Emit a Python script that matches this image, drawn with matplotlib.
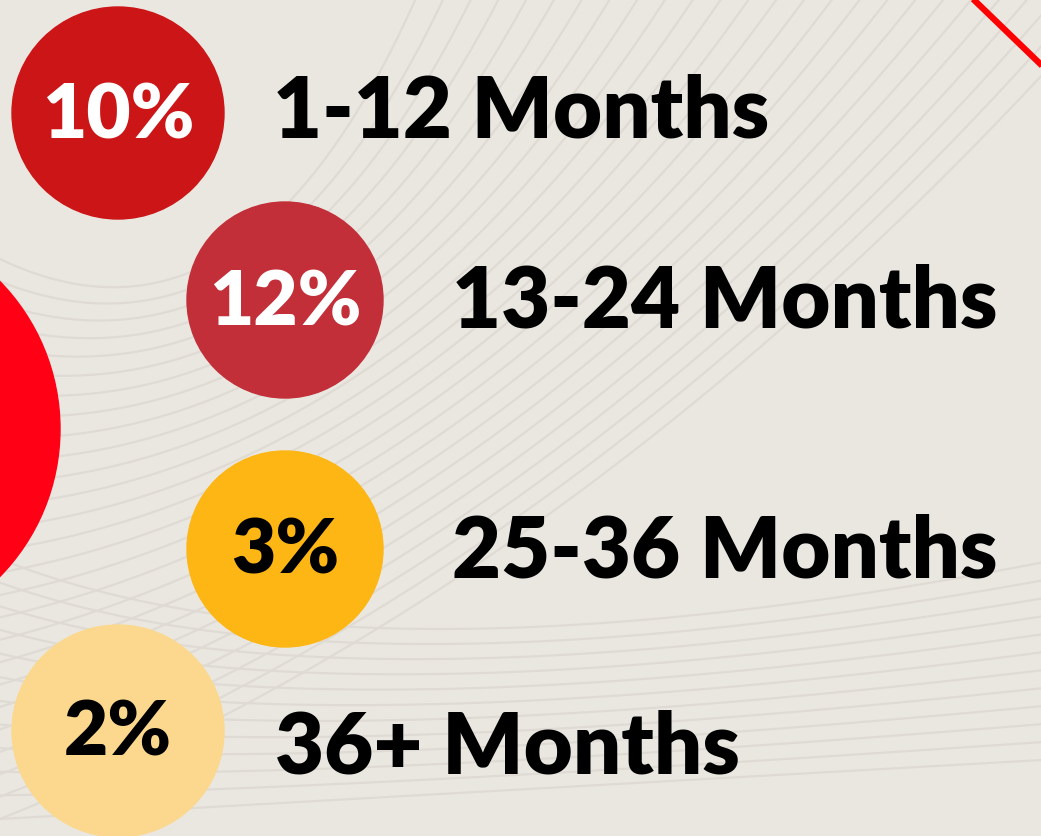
import numpy as np
import matplotlib.pyplot as plt
from matplotlib.patches import Circle

#~~~~~~~~~~~~~~~~~~~~~~~~~~~~~~~~~~~~~~~~~~~~~~~~~~

# DATA

shares = [10, 12, 3, 2]
labels = ["1-12 Months", "13-24 Months", "25-36 Months", "36+ Months"]

#~~~~~~~~~~~~~~~~~~~~~~~~~~~~~~~~~~~~~~~~~~~~~~~~~~

# LAYOUT (pixels, y down)

W, H = 1041, 837
BG = "#eae7e1"
LINE = "#dfdbd4"

bubbleColors = ["#cc1517", "#c22f39", "#fdb614", "#fbd88e"]
textColors = ["white", "white", "black", "black"]
centers = [(118, 114), (285, 301), (285, 550), (118, 732)]
radii = [106, 98, 98, 106]
labelX = [273, 452, 452, 275]
labelY = [112, 302, 553, 749]

FONT = ["Lato", "DejaVu Sans"]

#~~~~~~~~~~~~~~~~~~~~~~~~~~~~~~~~~~~~~~~~~~~~~~~~~~

# FIGURE

figure = plt.figure(figsize = (W / 100, H / 100), dpi = 100)
figure.patch.set_facecolor(BG)
axis = figure.add_axes([0, 0, 1, 1])
axis.set_xlim(0, W)
axis.set_ylim(H, 0)
axis.set_aspect("equal")
axis.axis("off")
axis.set_facecolor(BG)

#~~~~~~~~~~~~~~~~~~~~~~~~~~~~~~~~~~~~~~~~~~~~~~~~~~

# BACKGROUND SWIRL LINES

t = np.linspace(0, 1, 200)[:, None]
for k in range(26):
    a = k / 25
    # fan of curves from the left side up to the top edge
    p0 = np.array([0, 260 + 560 * a])
    p1 = np.array([250 + 350 * a, 380 + 200 * a])
    p2 = np.array([420 + 700 * a, -10])
    curve = (1 - t) ** 2 * p0 + 2 * (1 - t) * t * p1 + t ** 2 * p2
    axis.plot(curve[:, 0], curve[:, 1], color = LINE, linewidth = 1.6, zorder = 0)
for k in range(12):
    a = k / 11
    # crossing curves near the bottom
    p0 = np.array([0, 560 + 260 * a])
    p1 = np.array([350, 700 + 100 * a])
    p2 = np.array([1060, 560 + 200 * a])
    curve = (1 - t) ** 2 * p0 + 2 * (1 - t) * t * p1 + t ** 2 * p2
    axis.plot(curve[:, 0], curve[:, 1], color = LINE, linewidth = 1.6, zorder = 0)

#~~~~~~~~~~~~~~~~~~~~~~~~~~~~~~~~~~~~~~~~~~~~~~~~~~

# DECORATION

axis.add_patch(Circle((-151, 430), 211, color = "#ff0015", zorder = 1))
axis.plot([971, 1060], [-2, 84], color = "#ff0000", linewidth = 4.5,
          solid_capstyle = "butt", zorder = 1)

#~~~~~~~~~~~~~~~~~~~~~~~~~~~~~~~~~~~~~~~~~~~~~~~~~~

# BUBBLES AND LABELS

for i in range(len(shares)):
    cx, cy = centers[i]
    axis.add_patch(Circle((cx, cy), radii[i], color = bubbleColors[i], zorder = 2))
    axis.text(cx, cy + 2, str(shares[i]) + "%", color = textColors[i],
              fontsize = 55, fontweight = "heavy", family = FONT,
              ha = "center", va = "center", zorder = 3)
    axis.text(labelX[i], labelY[i], labels[i], color = "black",
              fontsize = 61, fontweight = "heavy", family = FONT,
              ha = "left", va = "center", zorder = 3)

#~~~~~~~~~~~~~~~~~~~~~~~~~~~~~~~~~~~~~~~~~~~~~~~~~~

# SAVING

figure.savefig("out.png", dpi = 100, facecolor = BG)
